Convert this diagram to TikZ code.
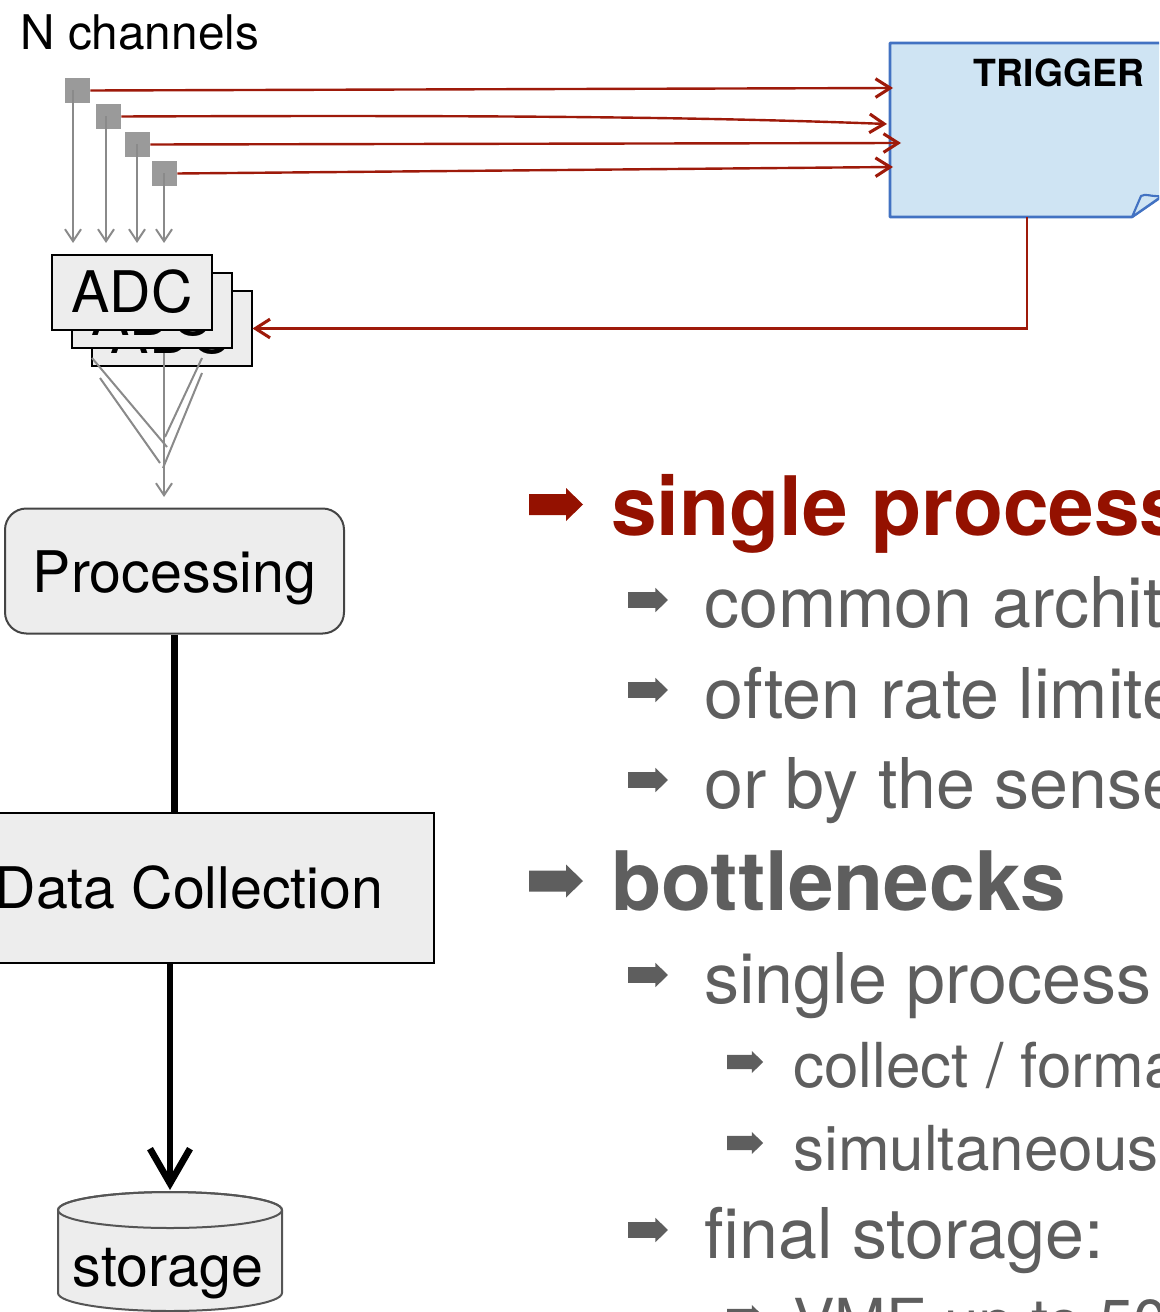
\documentclass[tikz,border=0pt]{standalone}
\usepackage{fontspec}
\setmainfont{TeX Gyre Heros}
\usetikzlibrary{arrows.meta,calc}

\definecolor{boxfill}{HTML}{EDEDED}
\definecolor{chgray}{HTML}{9A9A9A}
\definecolor{wire}{HTML}{8A8A8A}
\definecolor{procline}{HTML}{444444}
\definecolor{cylline}{HTML}{555555}
\definecolor{sigred}{HTML}{9E1A0A}
\definecolor{headred}{HTML}{941100}
\definecolor{txtgray}{HTML}{5E5E5E}
\definecolor{trigfill}{HTML}{CFE4F3}
\definecolor{trigline}{HTML}{4272C2}

% heavy right arrow used as list bullet
\tikzset{pics/bul/.style={code={
  \fill (0,-10.5) -- (37,-10.5) -- (37,-16.5) -- (54,0) -- (37,16.5) -- (37,10.5) -- (0,10.5) -- cycle;}}}

\begin{document}
\begin{tikzpicture}[x=0.75pt, y=0.75pt,
  chansq/.style={fill=chgray, minimum size=18.75pt, inner sep=0pt},
  adcbox/.style={draw=black, line width=1.5pt, fill=boxfill, minimum width=120pt, minimum height=56.25pt,
    inner sep=0pt, font=\fontsize{43pt}{50pt}\selectfont, text height=30.75pt, text depth=0pt},
  adcback/.style={adcbox, text height=38pt},
  procbox/.style={draw=procline, line width=1.5pt, fill=boxfill, rounded corners=16pt,
    minimum width=254.25pt, minimum height=93.75pt, inner sep=0pt,
    font=\fontsize{43pt}{50pt}\selectfont, text height=31.5pt, text depth=0pt},
  dcbox/.style={draw=black, line width=1.5pt, fill=boxfill, minimum width=367.5pt, minimum height=112.5pt,
    inner sep=0pt, font=\fontsize{43pt}{50pt}\selectfont, text height=30pt, text depth=0pt},
  sig/.style={draw=sigred, line width=1.8pt, -{Straight Barb[length=11pt,width=14pt,line width=2.3pt]}},
  chanarrow/.style={draw=wire, line width=1.5pt, -{Straight Barb[length=9pt,width=12pt]}},
  fan/.style={draw=wire, line width=1.5pt},
  bus/.style={draw=black, line width=5pt},
  plain/.style={anchor=base, inner sep=0pt},
  lvtwo/.style={anchor=base west, inner sep=0pt, text=txtgray, font=\fontsize{52.5pt}{60pt}\selectfont},
  lvthree/.style={anchor=base west, inner sep=0pt, text=txtgray, font=\fontsize{46.5pt}{54pt}\selectfont},
  headline/.style={anchor=base west, inner sep=0pt, font=\bfseries\fontsize{61.5pt}{70pt}\selectfont},
]
\useasboundingbox (0,0) rectangle (1159,-1312);
\clip (0,0) rectangle (1159,-1312);

% ---- channel inputs
\node[anchor=base west, inner sep=0pt, font=\fontsize{35.8pt}{42pt}\selectfont] (nch) at (20,-50) {N channels};
\node[chansq] (ch1) at (77.5,-90.5) {};
\node[chansq] (ch2) at (108.5,-116.5) {};
\node[chansq] (ch3) at (137.5,-144.5) {};
\node[chansq] (ch4) at (164.5,-173.5) {};

% ---- trigger unit (note with folded corner)
\filldraw[fill=trigfill, draw=trigline, line width=1.9pt, line join=round]
  (890,-43) -- (1180,-43) -- (1180,-184) -- (1132,-217) -- (890,-217) -- cycle;
\filldraw[fill=trigfill, draw=trigline, line width=1.6pt, line join=round]
  (1132,-217) -- (1141,-196) .. controls (1146,-193) and (1150,-197) .. (1162,-196) -- cycle;
\node[plain, font=\bfseries\fontsize{28pt}{34pt}\selectfont] (trig) at (1059,-87) {TRIGGER};
\coordinate (t1) at (893,-88);
\coordinate (t2) at (887,-124);
\coordinate (t3) at (901,-143);
\coordinate (t4) at (893,-167);
\coordinate (trigout) at (1027,-217);

% ---- ADC stack
\node[adcback] (adcC) at (171.5,-328.5) {ADC};
\node[adcback] (adcB) at (152,-310.5) {ADC};
\node[adcbox] (adcA) at (132,-292.5) {ADC};

% ---- channel to ADC arrows
\coordinate (d1) at (73,-243);
\coordinate (d2) at (106,-243);
\coordinate (d3) at (137,-243);
\coordinate (d4) at (164,-243);
\draw[chanarrow] (ch1.center -| d1) -- (d1);
\draw[chanarrow] (ch2.center -| d2) -- (d2);
\draw[chanarrow] (ch3.center -| d3) -- (d3);
\draw[chanarrow] (ch4.center -| d4) -- (d4);

% ---- channel to trigger signals
\draw[sig] (ch1.east) -- (t1);
\draw[sig] (ch2.east) .. controls (500,-115) and (700,-117) .. (t2);
\draw[sig] (ch3.east) -- (t3);
\draw[sig] (ch4.east) -- (t4);

% ---- trigger back to ADCs
\draw[sig] (trigout) |- (adcC.east);

% ---- ADC outputs merging into processing
\coordinate (f1) at (92,-358);   \coordinate (g1) at (167,-447);
\coordinate (f2) at (100,-378);  \coordinate (g2) at (160,-463);
\coordinate (f3) at (202,-358);  \coordinate (g3) at (165,-437);
\coordinate (f4) at (202,-373);  \coordinate (g4) at (163,-468);
\coordinate (fv) at (164,-353);  \coordinate (mtip) at (164,-497);
\draw[fan] (f1) -- (g1);
\draw[fan] (f2) -- (g2);
\draw[fan] (f3) -- (g3);
\draw[fan] (f4) -- (g4);
\draw[chanarrow] (fv) -- (mtip);

% ---- processing chain
\node[procbox] (proc) at (174.5,-571) {Processing};
\node[dcbox] (dc) at (189,-888) {Data Collection};
\draw[bus] (proc.south) -- (proc.south |- dc.north);

% storage drum
\filldraw[fill=boxfill, draw=cylline, line width=1.5pt]
  (58,-1210) -- (58,-1293) arc[start angle=180, end angle=360, x radius=112, y radius=18]
  -- (282,-1210) arc[start angle=0, end angle=180, x radius=112, y radius=18] -- cycle;
\draw[draw=cylline, line width=1.5pt] (170,-1210) ellipse[x radius=112, y radius=18];
\coordinate (stortop) at (170,-1190);
\node[plain, font=\fontsize{43pt}{50pt}\selectfont] (storage) at (168,-1286) {storage};
\draw[bus, -{Straight Barb[length=26pt,width=30pt]}] (stortop |- dc.south) -- (stortop);

% ---- bullet list
\pic[headred] at (529,-504.5) {bul};
\node[headline, text=headred] (h1) at (611,-535) {single process};
\pic[txtgray, scale=0.74] at (628,-600) {bul};
\node[lvtwo] (l1) at (704,-627) {common archit};
\pic[txtgray, scale=0.74] at (628,-690) {bul};
\node[lvtwo] (l2) at (704,-718) {often rate limite};
\pic[txtgray, scale=0.74] at (628,-780) {bul};
\node[lvtwo] (l3) at (704,-808) {or by the sense};
\pic[txtgray] at (529,-881) {bul};
\node[headline, text=txtgray] (h2) at (611,-910) {bottlenecks};
\pic[txtgray, scale=0.74] at (628,-975) {bul};
\node[lvtwo] (l4) at (704,-1003) {single process};
\pic[txtgray, scale=0.67] at (727,-1062) {bul};
\node[lvthree] (l5) at (793,-1087) {collect / forma};
\pic[txtgray, scale=0.67] at (727,-1143) {bul};
\node[lvthree] (l6) at (793,-1170) {simultaneous};
\pic[txtgray, scale=0.74] at (628,-1230) {bul};
\node[lvtwo] (l7) at (704,-1258) {final storage:};
\pic[txtgray, scale=0.67] at (727,-1316) {bul};
\node[lvthree] (l8) at (793,-1343) {VME up to 50};
\end{tikzpicture}
\end{document}
